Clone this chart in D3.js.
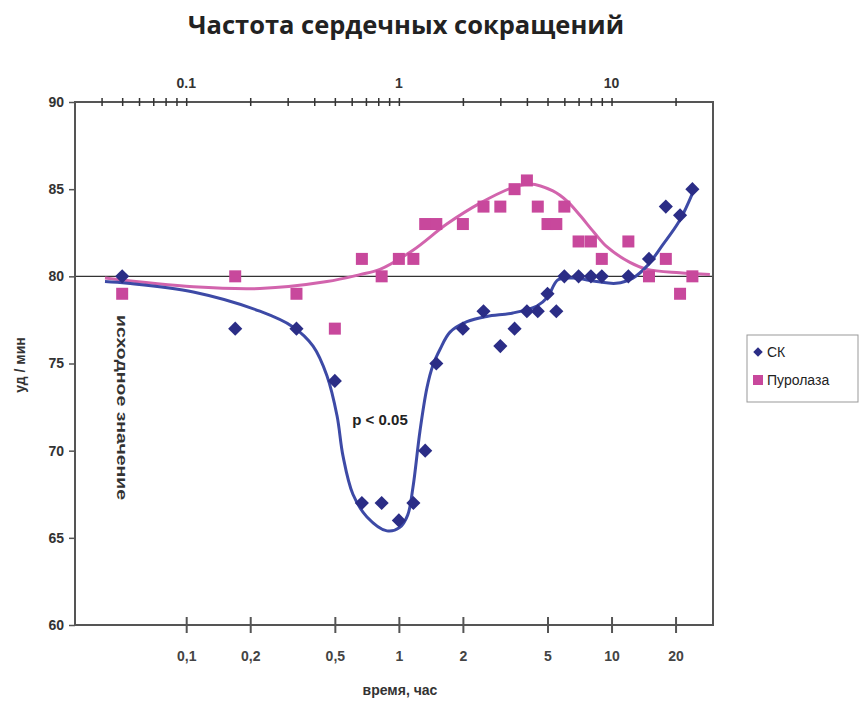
<!DOCTYPE html>
<html lang="ru">
  <head>
    <meta charset="utf-8">
    <script src="https://d3js.org/d3.v7.min.js"></script>
    <title>Частота сердечных сокращений</title>
    <style>
      body { margin: 0; background: #fff; }
      text { font-family: "Liberation Sans", Arial, sans-serif; }
    </style>
  </head>
  <body>
    <script>
      // time, h
      var times = [0.05, 0.17, 0.33, 0.5, 0.67, 0.83, 1.0, 1.17, 1.33, 1.5, 2, 2.5, 3, 3.5, 4, 4.5, 5, 5.5, 6, 7, 8, 9, 12, 15, 18, 21, 24];
      var skValues = [80, 77, 77, 74, 67, 67, 66, 67, 70, 75, 77, 78, 76, 77, 78, 78, 79, 78, 80, 80, 80, 80, 80, 81, 84, 83.5, 85];
      var purValues = [79, 80, 79, 77, 81, 80, 81, 81, 83, 83, 83, 84, 84, 85, 85.5, 84, 83, 83, 84, 82, 82, 81, 82, 80, 81, 79, 80];

      // fitted curves
      var skFitX = [0.0415, 0.053, 0.108, 0.222, 0.318, 0.395, 0.459, 0.512, 0.546, 0.608, 0.708, 0.879, 1.01, 1.10, 1.165, 1.256, 1.355, 1.446, 1.56, 1.74, 2.09, 2.59, 3.44, 4.46, 5.0, 5.6, 6.6, 8.5, 10.5, 12.6, 14.7, 17.4, 20.9, 24.1];
      var skFitY = [79.7, 79.6, 79.1, 78.0, 77.1, 76.0, 74.3, 72.0, 69.7, 67.5, 66.2, 65.4, 65.6, 66.3, 67.9, 71.1, 73.6, 74.9, 75.8, 76.8, 77.4, 77.7, 77.9, 78.3, 78.8, 79.8, 79.9, 79.7, 79.6, 79.9, 80.6, 81.8, 83.2, 84.8];
      var purFitX = [0.0415, 0.108, 0.222, 0.459, 0.656, 0.815, 1.165, 1.68, 2.41, 3.44, 4.13, 5.3, 6.2, 7.1, 8.3, 9.5, 12.2, 14.7, 20.9, 29];
      var purFitY = [79.9, 79.4, 79.3, 79.7, 80.1, 80.4, 81.5, 83.0, 84.2, 85.1, 85.3, 84.9, 84.3, 83.5, 82.5, 81.7, 80.8, 80.4, 80.2, 80.1];

      var topTicks = [0.04, 0.05, 0.06, 0.07, 0.08, 0.09, 0.1, 0.2, 0.3, 0.4, 0.5, 0.6, 0.7, 0.8, 0.9, 1, 2, 3, 4, 5, 6, 7, 8, 9, 10, 20];
      var topLabels = [0.1, 1, 10];
      var bottomTicks = [0.1, 0.2, 0.5, 1, 2, 5, 10, 20];
      var yTicks = [60, 65, 70, 75, 80, 85, 90];

      var skColor = "#2b2d86";
      var skLine = "#3d4aa6";
      var purColor = "#c8489c";
      var purLine = "#d264ad";

      var svg = d3.select("body").append("svg")
        .attr("width", 862)
        .attr("height", 701);

      var plotL = 75, plotR = 713, plotT = 102, plotB = 625;

      var xScale = d3.scaleLog().domain([0.03, 30]).range([plotL, plotR]);
      var yScale = d3.scaleLinear().domain([60, 90]).range([plotB, plotT]);

      svg.append("text")
        .attr("x", 406).attr("y", 34)
        .attr("text-anchor", "middle")
        .style("font-family", "'Open Sans', sans-serif")
        .style("font-weight", "bold")
        .style("font-size", "25.5px")
        .attr("fill", "#222")
        .text("Частота сердечных сокращений");

      // baseline 80
      svg.append("line")
        .attr("x1", plotL).attr("x2", plotR)
        .attr("y1", yScale(80)).attr("y2", yScale(80))
        .attr("stroke", "#333").attr("stroke-width", 1.4);

      // fitted lines
      function fitPath(xs, ys) {
        var pts = xs.map(function (x, i) { return [x, ys[i]]; });
        return d3.line()
          .x(function (d) { return xScale(d[0]); })
          .y(function (d) { return yScale(d[1]); })
          .curve(d3.curveCatmullRom.alpha(0.5))(pts);
      }

      svg.append("path")
        .attr("d", fitPath(purFitX, purFitY))
        .attr("fill", "none").attr("stroke", purLine).attr("stroke-width", 3);
      svg.append("path")
        .attr("d", fitPath(skFitX, skFitY))
        .attr("fill", "none").attr("stroke", skLine).attr("stroke-width", 3);

      // points
      var sq = 12;
      svg.selectAll("rect.pur").data(times).enter().append("rect")
        .attr("class", "pur")
        .attr("x", function (d) { return xScale(d) - sq / 2; })
        .attr("y", function (d, i) { return yScale(purValues[i]) - sq / 2; })
        .attr("width", sq).attr("height", sq)
        .attr("fill", purColor);

      var diamond = d3.symbol().type(d3.symbolSquare).size(100);
      svg.selectAll("path.sk").data(times).enter().append("path")
        .attr("class", "sk")
        .attr("d", diamond)
        .attr("transform", function (d, i) {
          return "translate(" + xScale(d) + "," + yScale(skValues[i]) + ") rotate(45)";
        })
        .attr("fill", skColor);

      // frame
      var axisColor = "#555";
      svg.append("rect")
        .attr("x", plotL).attr("y", plotT)
        .attr("width", plotR - plotL).attr("height", plotB - plotT)
        .attr("fill", "none").attr("stroke", axisColor).attr("stroke-width", 2);

      // top axis
      var topAxis = d3.axisTop(xScale).tickValues(topTicks).tickSize(0).tickFormat("");
      var gTop = svg.append("g").attr("transform", "translate(0," + plotT + ")").call(topAxis);
      gTop.select(".domain").remove();
      gTop.selectAll(".tick line").attr("y1", -4).attr("y2", 4).attr("stroke", "#333").attr("stroke-width", 1.5);
      svg.selectAll("text.toplab").data(topLabels).enter().append("text")
        .attr("class", "toplab")
        .attr("x", function (d) { return xScale(d); })
        .attr("y", 88)
        .attr("text-anchor", "middle")
        .style("font-weight", "bold").style("font-size", "14px")
        .attr("fill", "#333")
        .text(function (d) { return d; });

      // bottom axis
      var bottomAxis = d3.axisBottom(xScale).tickValues(bottomTicks).tickSize(0)
        .tickFormat(function (d) { return String(d).replace(".", ","); });
      var gBot = svg.append("g").attr("transform", "translate(0," + plotB + ")").call(bottomAxis);
      gBot.select(".domain").remove();
      gBot.selectAll(".tick line").attr("y1", -8).attr("y2", 8).attr("stroke", "#555").attr("stroke-width", 2);
      gBot.selectAll(".tick text")
        .attr("y", 36).attr("dy", 0)
        .style("font-family", "'Liberation Sans', Arial, sans-serif")
        .style("font-weight", "bold").style("font-size", "14px")
        .attr("fill", "#444");

      // left axis
      var leftAxis = d3.axisLeft(yScale).tickValues(yTicks).tickSize(6).tickPadding(5);
      var gLeft = svg.append("g").attr("transform", "translate(" + plotL + ",0)").call(leftAxis);
      gLeft.select(".domain").remove();
      gLeft.selectAll(".tick line").attr("stroke", "#555").attr("stroke-width", 1.5);
      gLeft.selectAll(".tick text")
        .style("font-family", "'Liberation Sans', Arial, sans-serif")
        .style("font-weight", "bold").style("font-size", "14px")
        .attr("fill", "#333");

      // axis titles
      svg.append("text")
        .attr("x", 400).attr("y", 695)
        .attr("text-anchor", "middle")
        .style("font-weight", "bold").style("font-size", "14px")
        .attr("fill", "#333")
        .text("время, час");

      svg.append("text")
        .attr("transform", "translate(25,365) rotate(-90)")
        .attr("text-anchor", "middle")
        .style("font-weight", "bold").style("font-size", "14px")
        .attr("fill", "#333")
        .text("уд / мин");

      svg.append("text")
        .attr("transform", "translate(117,315) rotate(90)")
        .attr("text-anchor", "start")
        .attr("textLength", 185)
        .attr("lengthAdjust", "spacingAndGlyphs")
        .style("font-weight", "bold").style("font-size", "15px")
        .attr("fill", "#333")
        .text("исходное значение");

      svg.append("text")
        .attr("x", 380).attr("y", 425)
        .attr("text-anchor", "middle")
        .style("font-weight", "bold").style("font-size", "15px")
        .attr("fill", "#222")
        .text("p < 0.05");

      // legend
      var lg = svg.append("g");
      lg.append("rect")
        .attr("x", 747).attr("y", 335).attr("width", 111).attr("height", 67)
        .attr("fill", "#fff").attr("stroke", "#999").attr("stroke-width", 1);
      lg.append("path")
        .attr("d", d3.symbol().type(d3.symbolSquare).size(45))
        .attr("transform", "translate(758,352) rotate(45)")
        .attr("fill", skColor);
      lg.append("rect")
        .attr("x", 753).attr("y", 375).attr("width", 10).attr("height", 10)
        .attr("fill", purColor);
      lg.append("text").attr("x", 767).attr("y", 357)
        .style("font-size", "14px").attr("fill", "#222").text("СК");
      lg.append("text").attr("x", 767).attr("y", 385)
        .style("font-size", "14px").attr("fill", "#222").text("Пуролаза");
    </script>
  </body>
</html>
